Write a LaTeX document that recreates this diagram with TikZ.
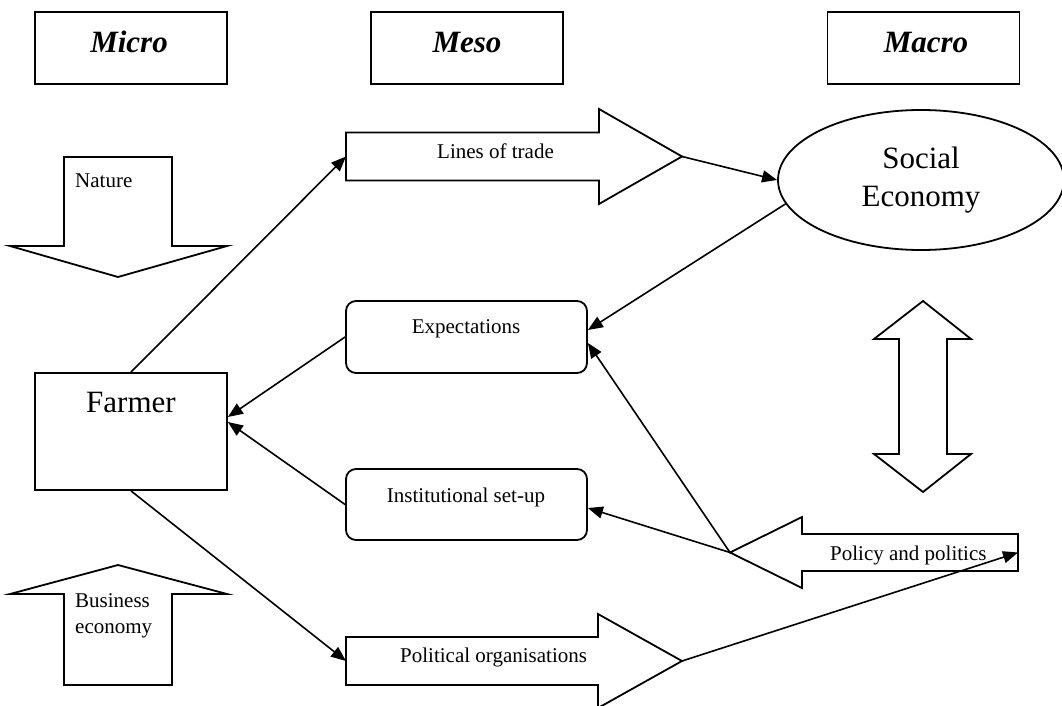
\documentclass[tikz,border=0pt]{standalone}
\usepackage{fontspec}
\setmainfont{Liberation Serif}
\usetikzlibrary{arrows.meta,shapes.geometric}
\begin{document}
\begin{tikzpicture}[x=1pt,y=-1pt,
  outline/.style={draw, line width=1.8pt, line join=miter},
  levelbox/.style={outline, minimum width=192pt, minimum height=72pt, inner sep=0pt},
  mesobox/.style={outline, rounded corners=10pt, minimum width=241pt, minimum height=72pt, inner sep=0pt},
  smalltext/.style={font=\fontsize{21}{26}\selectfont, inner sep=0pt},
  bigtext/.style={font=\fontsize{31}{38}\selectfont, inner sep=0pt},
  leveltext/.style={font=\fontsize{31}{36}\selectfont\bfseries\itshape, inner sep=0pt},
  link/.style={line width=1.6pt},
  arrowlink/.style={link, -{Triangle[length=15pt,width=12pt]}},
]
\useasboundingbox (0,0) rectangle (1062,706);

% level headings
\node[levelbox] (micro) at (131,48) {};
\node[leveltext, anchor=base] (microtext) at (129,53) {Micro};
\node[levelbox] (meso) at (467,48) {};
\node[leveltext, anchor=base] (mesotext) at (467,53) {Meso};
\node[levelbox] (macro) at (923.5,48) {};
\node[leveltext, anchor=base] (macrotext) at (926,53) {Macro};

% forces acting on the farmer
\draw[outline] (64,157) -- (172,157) -- (172,246) -- (227,246) -- (118,277)
  -- (10,246) -- (64,246) -- cycle;
\node[smalltext, anchor=base west] (nature) at (75,187) {Nature};

\draw[outline] (118,565) -- (227,594) -- (172,594) -- (172,685) -- (64,685)
  -- (64,594) -- (10,594) -- cycle;
\node[smalltext, anchor=base west, align=left] (business) at (75,633) {Business\\economy};

% farmer
\node[outline, minimum width=192pt, minimum height=117pt, inner sep=0pt] (farmer) at (131,431.5) {};
\node[bigtext, anchor=base] (farmertext) at (131,412) {Farmer};

% meso level
\draw[outline] (346,132.5) -- (599,132.5) -- (599,109) -- (682,156.5) -- (599,204)
  -- (599,180.5) -- (346,180.5) -- cycle;
\coordinate (trade-w) at (346,156.5);
\coordinate (trade-tip) at (682,156.5);
\node[smalltext, anchor=base west] (tradetext) at (437,158) {Lines of trade};

\node[mesobox] (expect) at (466.5,337) {};
\node[smalltext, anchor=base] (expecttext) at (466,333) {Expectations};

\node[mesobox, minimum height=71pt] (inst) at (466.5,504.5) {};
\node[smalltext, anchor=base] (insttext) at (466,502) {Institutional set-up};

\draw[outline] (346,637) -- (598,637) -- (598,614) -- (682,661) -- (598,708)
  -- (598,685) -- (346,685) -- cycle;
\coordinate (polorg-w) at (346,661);
\coordinate (polorg-tip) at (682,661);
\node[smalltext, anchor=base west] (polorgtext) at (400,662) {Political organisations};

% macro level
\node[draw, ellipse, line width=1.8pt, minimum width=286pt, minimum height=140pt,
  inner sep=0pt, align=center, font=\fontsize{31}{38}\selectfont] (social) at (921,180) {Social\\Economy};

\draw[outline] (923,301) -- (971,339) -- (947,339) -- (947,454) -- (971,454)
  -- (923,492) -- (874,454) -- (899,454) -- (899,339) -- (874,339) -- cycle;

\draw[outline] (730,552.5) -- (802,517) -- (802,534) -- (1018,534) -- (1018,571)
  -- (802,571) -- (802,588) -- cycle;
\coordinate (policy-tip) at (730,552.5);
\coordinate (policy-e) at (1018,552.5);
\node[smalltext, anchor=base west] (policytext) at (830,560) {Policy and politics};

% connectors
\draw[arrowlink] (farmer.north) -- (trade-w);
\draw[arrowlink] (farmer.south) -- (polorg-w);
\draw[arrowlink] (expect.west) -- ([yshift=14.5pt]farmer.east);
\draw[arrowlink] (inst.west) -- ([yshift=9.5pt]farmer.east);
\draw[arrowlink] (trade-tip) -- (social.west);
\draw[arrowlink] (social.190) -- ([yshift=7pt]expect.east);
\draw[arrowlink] (policy-tip) -- ([yshift=-6pt]expect.east);
\draw[arrowlink] (policy-tip) -- ([yshift=-3.5pt]inst.east);
\draw[arrowlink] (polorg-tip) -- (policy-e);
\end{tikzpicture}
\end{document}
